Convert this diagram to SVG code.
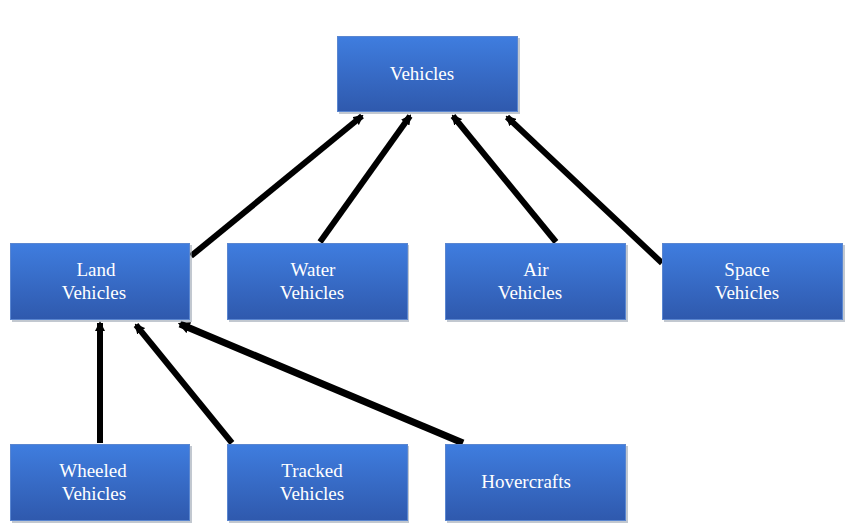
<svg xmlns="http://www.w3.org/2000/svg" width="850" height="530" viewBox="0 0 850 530">
<style>
.box{fill:url(#g);stroke:#5a86d0;stroke-width:1}
.sh{fill:#9aa3b0;opacity:0.6}
.t{font-family:"Liberation Serif","Times New Roman",serif;font-size:19px;fill:#ffffff;text-anchor:middle}
.c{stroke:#000;stroke-width:6;fill:none;marker-end:url(#a)}
</style>
<defs>
<linearGradient id="g" x1="0" y1="0" x2="0" y2="1">
<stop offset="0" stop-color="#3f7ddf"/>
<stop offset="1" stop-color="#2f59ad"/>
</linearGradient>
<marker id="a" viewBox="0 0 10 10" refX="8" refY="5" markerWidth="1.7" markerHeight="1.7" orient="auto" markerUnits="strokeWidth">
<path d="M0,0 L10,5 L0,10 z" fill="#000"/>
</marker>
</defs>
<rect width="850" height="530" fill="#ffffff"/>
<g id="connectors">
<line class="c" x1="191" y1="256" x2="362" y2="116"/>
<line class="c" x1="320" y1="242" x2="410" y2="116"/>
<line class="c" x1="556" y1="242" x2="453" y2="116"/>
<line class="c" x1="662" y1="263" x2="507" y2="117"/>
<line class="c" x1="100" y1="443" x2="100" y2="323"/>
<line class="c" x1="232" y1="443" x2="136" y2="325"/>
<line class="c" x1="463" y1="443" x2="180" y2="324" style="stroke-width:7"/>
</g>
<g id="vehicles">
<rect class="sh" x="339" y="38" width="181" height="76"/>
<rect class="box" x="337.5" y="36.5" width="180" height="75"/>
<text class="t" x="422" y="80">Vehicles</text>
</g>
<g id="land">
<rect class="sh" x="12" y="245" width="180" height="77"/>
<rect class="box" x="10.5" y="243.5" width="179" height="76"/>
<text class="t" x="96" y="276">Land</text>
<text class="t" x="94" y="299">Vehicles</text>
</g>
<g id="water">
<rect class="sh" x="229" y="245" width="180" height="77"/>
<rect class="box" x="227.5" y="243.5" width="180" height="76"/>
<text class="t" x="313" y="276">Water</text>
<text class="t" x="312" y="299">Vehicles</text>
</g>
<g id="air">
<rect class="sh" x="447" y="245" width="181" height="77"/>
<rect class="box" x="445.5" y="243.5" width="180" height="76"/>
<text class="t" x="536" y="276">Air</text>
<text class="t" x="530" y="299">Vehicles</text>
</g>
<g id="space">
<rect class="sh" x="664" y="245" width="181" height="77"/>
<rect class="box" x="662.5" y="243.5" width="180" height="76"/>
<text class="t" x="747" y="276">Space</text>
<text class="t" x="747" y="299">Vehicles</text>
</g>
<g id="wheeled">
<rect class="sh" x="12" y="446" width="180" height="77"/>
<rect class="box" x="10.5" y="444.5" width="179" height="76"/>
<text class="t" x="93" y="477">Wheeled</text>
<text class="t" x="94" y="500">Vehicles</text>
</g>
<g id="tracked">
<rect class="sh" x="229" y="446" width="180" height="77"/>
<rect class="box" x="227.5" y="444.5" width="180" height="76"/>
<text class="t" x="312" y="477">Tracked</text>
<text class="t" x="312" y="500">Vehicles</text>
</g>
<g id="hovercrafts">
<rect class="sh" x="447" y="446" width="181" height="77"/>
<rect class="box" x="445.5" y="444.5" width="180" height="76"/>
<text class="t" x="526" y="488">Hovercrafts</text>
</g>
</svg>
